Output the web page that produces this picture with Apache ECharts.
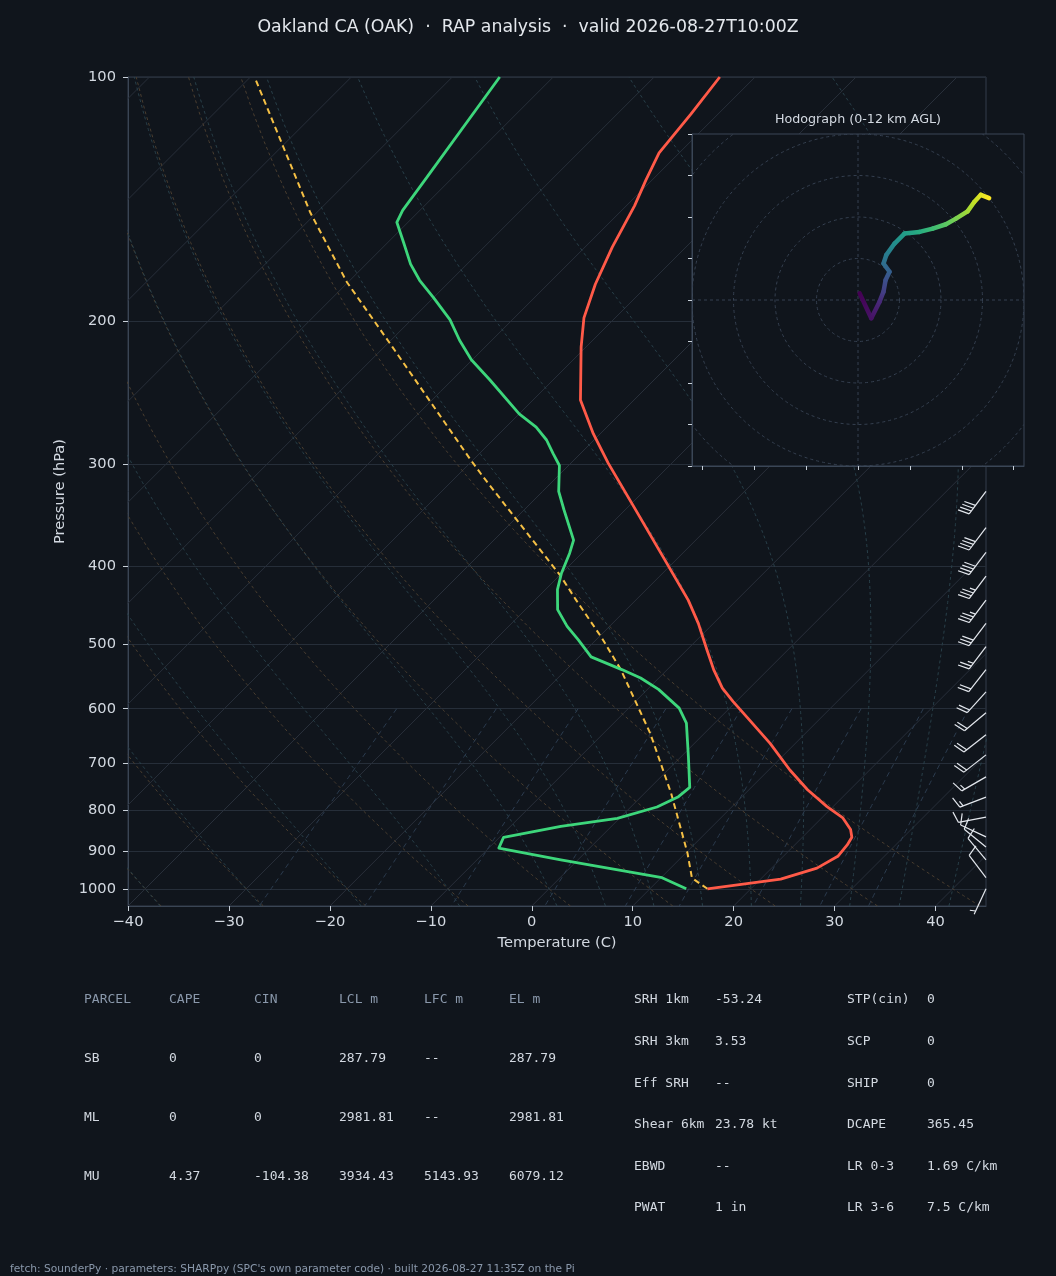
<!DOCTYPE html>
<html lang="en">
<head>
<meta charset="UTF-8">
<title>Skew-T - Oakland CA</title>
<script src="https://cdn.jsdelivr.net/npm/echarts@6/dist/echarts.min.js"></script>
<style>
html, body {margin: 0; padding: 0; background: #10151c;}
#main {width: 1056px; height: 1276px;}
</style>
</head>
<body>
<div id="main"></div>
<script>
// sounding: pressure (hPa) and temperature (C)
var tempP = [1000, 973, 943, 912, 883, 864, 845, 818, 792, 755, 714, 662, 622, 588, 566, 537, 508, 471, 441, 397, 338, 299, 275, 250, 215, 198, 180, 162, 144, 134, 124, 111, 100];
var tempC = [15.7, 22.0, 24.5, 25.4, 25.2, 24.9, 24.0, 22.1, 19.4, 15.8, 12.1, 7.5, 3.4, -0.3, -2.7, -5.4, -8.0, -11.5, -14.8, -20.6, -29.5, -36.3, -40.7, -45.3, -50.5, -53.1, -55.3, -57.3, -59.2, -60.6, -62.0, -62.7, -63.5];
var dewP = [1000, 969, 921, 891, 864, 838, 819, 793, 770, 750, 687, 625, 599, 568, 550, 537, 518, 494, 475, 453, 428, 409, 386, 372, 341, 324, 301, 291, 280, 270, 260, 236, 223, 211, 199, 187, 178, 170, 160, 151, 146, 134, 100];
var dewC = [13.6, 10.1, -1.7, -9.0, -9.6, -5.0, -0.2, 2.6, 3.7, 3.9, 0.7, -2.8, -5.0, -8.9, -11.8, -14.5, -18.8, -21.7, -24.2, -26.8, -28.8, -30.0, -31.2, -32.1, -36.1, -38.4, -40.9, -42.7, -44.7, -47.0, -50.0, -56.3, -60.1, -63.2, -66.2, -70.0, -73.1, -75.6, -78.4, -81.1, -81.7, -82.5, -85.3];
var parcelP = [1000, 970, 904, 762, 643, 537, 491, 441, 412, 311, 296, 215, 179, 147, 101];
var parcelC = [15.7, 13.1, 10.2, 2.6, -5.4, -14.6, -19.6, -25.9, -29.8, -47.3, -50.3, -69.2, -80.1, -90.6, -109.1];

// hodograph (kt) and height (km AGL)
var hodoU = [0.8, 6.4, 10.4, 12.3, 13.3, 15.2, 12.3, 13.6, 17.6, 22.4, 29.6, 36.0, 42.4, 47.2, 52.8, 56.0, 59.2, 63.2];
var hodoV = [3.2, -8.8, -0.8, 4.0, 9.6, 13.6, 17.6, 21.6, 27.2, 32.0, 32.8, 34.4, 36.5, 39.2, 42.7, 47.2, 50.7, 49.1];
var hodoH = [0, 0.6, 1.4, 2.2, 2.9, 3.6, 4.3, 4.9, 5.8, 6.6, 7.4, 8.2, 8.9, 9.6, 10.3, 10.9, 11.5, 12.0];

// wind barbs on the right edge
var barbP = [1000, 969, 921, 888, 863, 816, 771, 728, 684, 646, 607, 572, 537, 503, 471, 441, 412, 385, 359, 324];
var barbDir = [205, 323, 320, 309, 295, 259, 249, 240, 232, 232, 230, 222, 218, 217, 217, 217, 217, 217, 217, 217];
var barbKt = [5, 10, 10, 10, 10, 10, 15, 15, 20, 20, 20, 20, 20, 25, 30, 35, 35, 40, 40, 40];

var pressTicks = [100, 200, 300, 400, 500, 600, 700, 800, 900, 1000];
var tempTicks = [-40, -30, -20, -10, 0, 10, 20, 30, 40];
var hodoTicksX = [-75, -50, -25, 0, 25, 50, 75];
var hodoTicksY = [-80, -60, -40, -20, 0, 20, 40, 60, 80];
var hodoRings = [20, 40, 60, 80, 100, 120];

var tableHead = ['PARCEL', 'CAPE', 'CIN', 'LCL m', 'LFC m', 'EL m'];
var tableRows = [
  ['SB', '0', '0', '287.79', '--', '287.79'],
  ['ML', '0', '0', '2981.81', '--', '2981.81'],
  ['MU', '4.37', '-104.38', '3934.43', '5143.93', '6079.12']
];
var indexLeft = [['SRH 1km', '-53.24'], ['SRH 3km', '3.53'], ['Eff SRH', '--'], ['Shear 6km', '23.78 kt'], ['EBWD', '--'], ['PWAT', '1 in']];
var indexRight = [['STP(cin)', '0'], ['SCP', '0'], ['SHIP', '0'], ['DCAPE', '365.45'], ['LR 0-3', '1.69 C/km'], ['LR 3-6', '7.5 C/km']];

var BG = '#10151c';
var TXT = '#d3d9e1';
var DIM = '#8a98ab';
var P_BOT = 1050, P_TOP = 100, T_MIN = -40, T_MAX = 45;
var GRID = {left: 128, top: 77, width: 858, height: 829};
// 45 degree isotherms
var SKEW = (GRID.height / Math.log10(P_BOT / P_TOP)) / (GRID.width / (T_MAX - T_MIN));

function skewPt(t, p) {
  return [t + SKEW * Math.log10(P_BOT / p), Math.log10(p)];
}
function profile(ps, ts) {
  return ps.map(function (p, i) { return skewPt(ts[i], p); });
}

// thermodynamic background lines
var RD = 287.04749, CP = 1004.6662, LV = 2.50084e6, EPS = 0.6219569;
function esat(tK) {
  var c = tK - 273.15;
  return 6.112 * Math.exp(17.67 * c / (c + 243.5));
}
function moistDT(p, tK) {
  var es = esat(tK), rs = EPS * es / (p - es);
  return (RD * tK + LV * rs) / (CP + LV * LV * rs * EPS / (RD * tK * tK)) / p;
}
function rk4(p, t, h) {
  var k1 = moistDT(p, t);
  var k2 = moistDT(p + h / 2, t + h * k1 / 2);
  var k3 = moistDT(p + h / 2, t + h * k2 / 2);
  var k4 = moistDT(p + h, t + h * k3);
  return t + h * (k1 + 2 * k2 + 2 * k3 + k4) / 6;
}
function moistLine(t0) {
  var up = [], down = [], t, p;
  t = t0 + 273.15;
  for (p = 1000; p >= P_TOP; p -= 2) { up.push(skewPt(t - 273.15, p)); t = rk4(p, t, -2); }
  t = t0 + 273.15;
  for (p = 1000; p <= P_BOT; p += 2) { down.push(skewPt(t - 273.15, p)); t = rk4(p, t, 2); }
  return down.reverse().concat(up);
}
function dryLine(t0) {
  var pts = [];
  for (var p = P_BOT; p >= P_TOP; p -= 10) {
    pts.push(skewPt((t0 + 273.15) * Math.pow(p / 1000, RD / CP) - 273.15, p));
  }
  return pts;
}
function mixLine(w) {
  var pts = [];
  for (var p = 600; p <= P_BOT; p += 10) {
    var e = p * w / (EPS + w), l = Math.log(e / 6.112);
    pts.push(skewPt(243.5 * l / (17.67 - l), p));
  }
  return pts;
}

function guide(data, color, dash) {
  return {
    type: 'line', data: data, xAxisIndex: 0, yAxisIndex: 0,
    showSymbol: false, symbol: 'none', silent: true, z: 1, clip: true,
    lineStyle: {color: color, width: 1, type: dash}
  };
}

var series = [];
var t;
for (t = -130; t <= 40; t += 10) {
  series.push(guide([skewPt(t, P_BOT), skewPt(t, P_TOP)], '#282f3a', 'solid'));
}
for (t = -40; t <= 40; t += 10) series.push(guide(dryLine(t), '#4a3e30', [3, 3]));
[-40, -30, -20, -10, 0, 5, 10, 15, 20, 25, 30, 35, 40, 45].forEach(function (t0) {
  series.push(guide(moistLine(t0), '#29404a', [3, 3]));
});
[0.0004, 0.001, 0.002, 0.004, 0.007, 0.01, 0.016, 0.024, 0.032].forEach(function (w) {
  series.push(guide(mixLine(w), '#2c3c4f', [5, 4]));
});

function profileLine(data, color, width, dash) {
  return {
    type: 'line', data: data, xAxisIndex: 0, yAxisIndex: 0,
    showSymbol: false, symbol: 'none', silent: true, z: 2, clip: true,
    lineStyle: {color: color, width: width, type: dash, cap: 'butt', join: 'round'}
  };
}
series.push(profileLine(profile(parcelP, parcelC), '#f5c045', 2, [6, 4]));
series.push(profileLine(profile(dewP, dewC), '#3dd67b', 2.8, 'solid'));
series.push(profileLine(profile(tempP, tempC), '#ff5a48', 2.8, 'solid'));

// wind barbs, drawn from the right edge of the plot
function renderBarb(params, api) {
  var base = api.coord([api.value(0), api.value(1)]);
  var dir = api.value(2) * Math.PI / 180;
  var spd = Math.round(api.value(3) / 5) * 5;
  var L = 28, dx = Math.sin(dir), dy = -Math.cos(dir), nx = -dy, ny = dx;
  var tip = [base[0] + dx * L, base[1] + dy * L];
  var sty = {stroke: '#e4e8ee', lineWidth: 1.2, fill: 'none'};
  var kids = [{type: 'line', shape: {x1: base[0], y1: base[1], x2: tip[0], y2: tip[1]}, style: sty}];
  var flags = Math.floor(spd / 50), rest = spd - flags * 50;
  var full = Math.floor(rest / 10), half = rest - full * 10 >= 5;
  var sp = 0.125 * L, fh = 0.4 * L, fw = 0.125 * L, pos = 0;
  function at(d) { return [tip[0] - dx * d, tip[1] - dy * d]; }
  for (var f = 0; f < flags; f++) {
    var r0 = at(pos), r1 = at(pos + 2 * fw);
    kids.push({type: 'polygon', shape: {points: [r0, [r0[0] + nx * fh - dx * fw, r0[1] + ny * fh - dy * fw], r1]},
      style: {fill: '#e4e8ee', stroke: '#e4e8ee', lineWidth: 1}});
    pos += 2 * fw + sp;
  }
  for (var b = 0; b < full; b++) {
    var r = at(pos);
    kids.push({type: 'line', shape: {x1: r[0], y1: r[1], x2: r[0] + nx * fh + dx * fw, y2: r[1] + ny * fh + dy * fw}, style: sty});
    pos += sp;
  }
  if (half) {
    if (full === 0 && flags === 0) pos += sp;
    var h = at(pos);
    kids.push({type: 'line', shape: {x1: h[0], y1: h[1], x2: h[0] + nx * fh / 2 + dx * fw / 2, y2: h[1] + ny * fh / 2 + dy * fw / 2}, style: sty});
  }
  return {type: 'group', children: kids};
}
series.push({
  type: 'custom', xAxisIndex: 0, yAxisIndex: 0, silent: true, z: 2,
  data: barbP.map(function (p, i) { return [T_MAX, Math.log10(p), barbDir[i], barbKt[i]]; }),
  renderItem: renderBarb
});

// hodograph
var viridis = ['#440154', '#482475', '#414487', '#355f8d', '#2a788e', '#21918c', '#22a884', '#44bf70', '#7ad151', '#bddf26', '#fde725'];
function viridisAt(f) {
  f = Math.max(0, Math.min(1, f)) * (viridis.length - 1);
  var i = Math.min(Math.floor(f), viridis.length - 2), k = f - i;
  var a = echarts.color.parse(viridis[i]), b = echarts.color.parse(viridis[i + 1]);
  return 'rgb(' + [0, 1, 2].map(function (j) { return Math.round(a[j] + (b[j] - a[j]) * k); }).join(',') + ')';
}
function renderRings(params, api) {
  var c = api.coord([0, 0]), cs = params.coordSys, kids = [];
  var ring = {fill: 'none', stroke: '#354050', lineWidth: 1, lineDash: [3, 3]};
  hodoRings.forEach(function (r) {
    kids.push({type: 'circle', shape: {cx: c[0], cy: c[1], r: api.size([r, 0])[0]}, style: ring});
  });
  kids.push({type: 'line', shape: {x1: cs.x, y1: c[1], x2: cs.x + cs.width, y2: c[1]}, style: ring});
  kids.push({type: 'line', shape: {x1: c[0], y1: cs.y, x2: c[0], y2: cs.y + cs.height}, style: ring});
  return {type: 'group', children: kids,
    clipPath: {type: 'rect', shape: {x: cs.x, y: cs.y, width: cs.width, height: cs.height}}};
}
function renderHodo(params, api) {
  var i = params.dataIndex;
  if (i >= hodoU.length - 1) return null;
  var a = api.coord([hodoU[i], hodoV[i]]), b = api.coord([hodoU[i + 1], hodoV[i + 1]]);
  var grad = new echarts.graphic.LinearGradient(a[0], a[1], b[0], b[1], [
    {offset: 0, color: viridisAt(hodoH[i] / 12)},
    {offset: 1, color: viridisAt(hodoH[i + 1] / 12)}
  ], true);
  return {type: 'line', shape: {x1: a[0], y1: a[1], x2: b[0], y2: b[1]},
    style: {stroke: grad, lineWidth: 4.5, lineCap: 'round'}};
}
series.push({type: 'custom', xAxisIndex: 1, yAxisIndex: 1, silent: true, z: 5,
  data: [[0, 0]], renderItem: renderRings});
series.push({type: 'custom', xAxisIndex: 1, yAxisIndex: 1, silent: true, z: 6,
  data: hodoU.map(function (u, i) { return [u, hodoV[i], hodoH[i]]; }), renderItem: renderHodo});

// parameter table underneath
var graphics = [];
function mono(text, x, y, color) {
  graphics.push({type: 'text', x: x, y: y, silent: true,
    style: {text: text, fill: color, font: '13px "DejaVu Sans Mono"', verticalAlign: 'middle'}});
}
tableHead.forEach(function (h, j) { mono(h, 84 + 85 * j, 1000, DIM); });
tableRows.forEach(function (row, i) {
  row.forEach(function (v, j) { mono(v, 84 + 85 * j, 1059 + 59 * i, TXT); });
});
indexLeft.forEach(function (row, i) {
  mono(row[0], 634, 1000 + 41.6 * i, TXT);
  mono(row[1], 715, 1000 + 41.6 * i, TXT);
});
indexRight.forEach(function (row, i) {
  mono(row[0], 847, 1000 + 41.6 * i, TXT);
  mono(row[1], 927, 1000 + 41.6 * i, TXT);
});
graphics.push({type: 'text', x: 10, y: 1269, silent: true,
  style: {text: 'fetch: SounderPy \u00b7 parameters: SHARPpy (SPC\'s own parameter code) \u00b7 built 2026-08-27 11:35Z on the Pi',
    fill: DIM, font: '10.67px "DejaVu Sans"', verticalAlign: 'middle'}});

var chart = echarts.init(document.getElementById('main'), null, {renderer: 'canvas'});
chart.setOption({
  backgroundColor: BG,
  animation: false,
  textStyle: {fontFamily: 'DejaVu Sans'},
  title: [{
    text: 'Oakland CA (OAK)  \u00b7  RAP analysis  \u00b7  valid 2026-08-27T10:00Z',
    left: 'center', top: 19, padding: 0,
    textStyle: {color: '#e4e8ed', fontSize: 17.33, fontWeight: 'normal', fontFamily: 'DejaVu Sans'}
  }, {
    text: 'Hodograph (0-12 km AGL)',
    left: 858, top: 113, textAlign: 'center', padding: 0, z: 8,
    textStyle: {color: TXT, fontSize: 12.7, fontWeight: 'normal', fontFamily: 'DejaVu Sans'}
  }],
  grid: [
    {left: GRID.left, top: GRID.top, width: GRID.width, height: GRID.height,
      show: true, borderColor: '#323c4a', borderWidth: 1, backgroundColor: 'transparent'},
    {left: 692, top: 134, width: 332, height: 332, z: 3,
      show: true, borderColor: '#3a4656', borderWidth: 1, backgroundColor: BG}
  ],
  xAxis: [{
    type: 'value', gridIndex: 0, min: T_MIN, max: T_MAX,
    name: 'Temperature (C)', nameLocation: 'middle', nameGap: 30,
    nameTextStyle: {color: TXT, fontSize: 14.67},
    axisLine: {show: true, onZero: false, lineStyle: {color: '#3a4554'}},
    axisTick: {show: true, length: 5, customValues: tempTicks, lineStyle: {color: '#c9d1da'}},
    axisLabel: {customValues: tempTicks, color: TXT, fontSize: 14.67, margin: 9,
      formatter: function (v) { return v < 0 ? '\u2212' + (-v) : String(v); }},
    splitLine: {show: false}
  }, {
    type: 'value', gridIndex: 1, min: -80, max: 80, z: 4,
    axisLine: {show: true, onZero: false, lineStyle: {color: '#3a4656'}},
    axisTick: {show: true, length: 4, customValues: hodoTicksX, lineStyle: {color: '#c9d1da'}},
    axisLabel: {show: false},
    splitLine: {show: false}
  }],
  yAxis: [{
    type: 'value', gridIndex: 0, inverse: true,
    min: Math.log10(P_TOP), max: Math.log10(P_BOT),
    name: 'Pressure (hPa)', nameLocation: 'middle', nameGap: 58,
    nameTextStyle: {color: TXT, fontSize: 14.67},
    axisLine: {show: true, onZero: false, lineStyle: {color: '#3a4554'}},
    axisTick: {show: true, length: 5, customValues: pressTicks.map(Math.log10), lineStyle: {color: '#c9d1da'}},
    axisLabel: {customValues: pressTicks.map(Math.log10), color: TXT, fontSize: 14.67, margin: 12,
      formatter: function (v) { return String(Math.round(Math.pow(10, v))); }},
    splitLine: {show: true, lineStyle: {color: '#262e39', width: 1}}
  }, {
    type: 'value', gridIndex: 1, min: -80, max: 80, z: 4,
    axisLine: {show: true, onZero: false, lineStyle: {color: '#3a4656'}},
    axisTick: {show: true, length: 4, customValues: hodoTicksY, lineStyle: {color: '#c9d1da'}},
    axisLabel: {show: false},
    splitLine: {show: false}
  }],
  series: series,
  graphic: graphics
});
</script>
</body>
</html>
